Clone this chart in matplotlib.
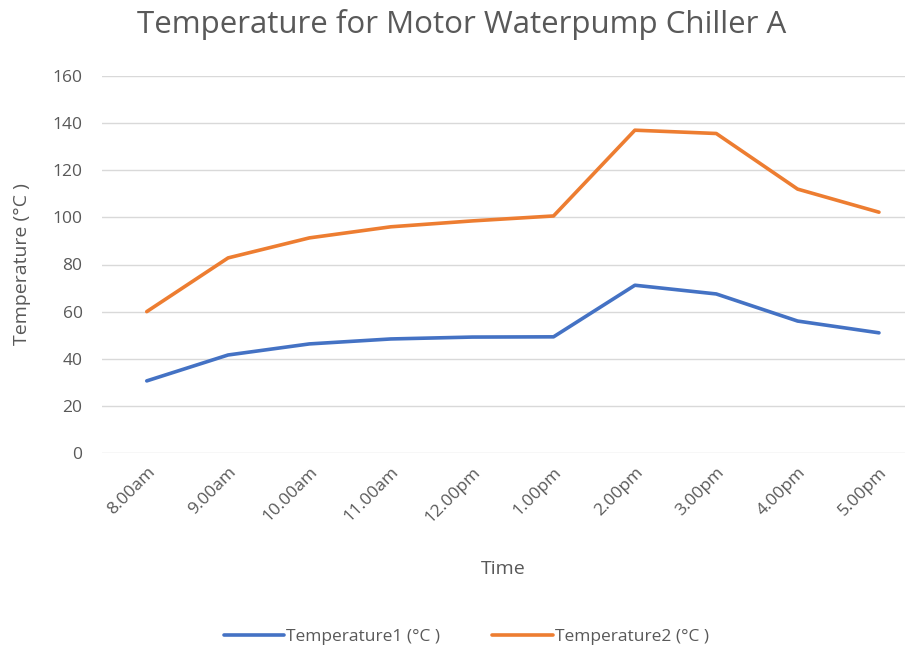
import matplotlib
matplotlib.use('Agg')
import matplotlib.pyplot as plt

times = ['8.00am', '9.00am', '10.00am', '11.00am', '12.00pm',
         '1.00pm', '2.00pm', '3.00pm', '4.00pm', '5.00pm']
temp1 = [30.6, 41.6, 46.3, 48.4, 49.2, 49.3, 71.2, 67.5, 56.0, 51.0]
temp2 = [60.0, 82.8, 91.3, 96.0, 98.5, 100.6, 137.0, 135.6, 112.0, 102.2]

txt = '#595959'
plt.rcParams['font.family'] = ['Open Sans', 'DejaVu Sans']

fig = plt.figure(figsize=(9.07, 6.53), dpi=100)
ax = fig.add_axes([102 / 907, 1 - 453 / 653, 803 / 907, 377 / 653])

x = list(range(len(times)))
ax.plot(x, temp1, color='#4472C4', lw=2.6, solid_capstyle='round', label='Temperature1 (°C )')
ax.plot(x, temp2, color='#ED7D31', lw=2.6, solid_capstyle='round', label='Temperature2 (°C )')

ax.set_ylim(0, 160)
ax.set_yticks(range(0, 161, 20))
ax.set_xlim(-0.55, 9.32)
ax.set_xticks(x)
ax.set_xticklabels(times, rotation=45, ha='right', rotation_mode='anchor')
ax.grid(axis='y', color='#D9D9D9', lw=1)
ax.set_axisbelow(True)
for s in ax.spines.values():
    s.set_visible(False)
ax.tick_params(length=0, colors=txt, labelsize=12.5)
ax.tick_params(axis='y', pad=14)
ax.tick_params(axis='x', pad=8)

ax.set_ylabel('Temperature (°C )', color=txt, fontsize=14)
ax.yaxis.set_label_coords(-0.088, 0.5)
ax.set_xlabel('Time', color=txt, fontsize=14)
ax.xaxis.set_label_coords(0.5, -0.285)

fig.text(0.509, 1 - 24 / 653, 'Temperature for Motor Waterpump Chiller A',
         ha='center', va='center', color=txt, fontsize=22.5)

fig.legend(loc='center', bbox_to_anchor=(0.514, 1 - 637 / 653), ncol=2, frameon=False,
           fontsize=12.5, labelcolor=txt, handlelength=3.5, handletextpad=0.1, columnspacing=3)

fig.savefig('out.png', dpi=100)
